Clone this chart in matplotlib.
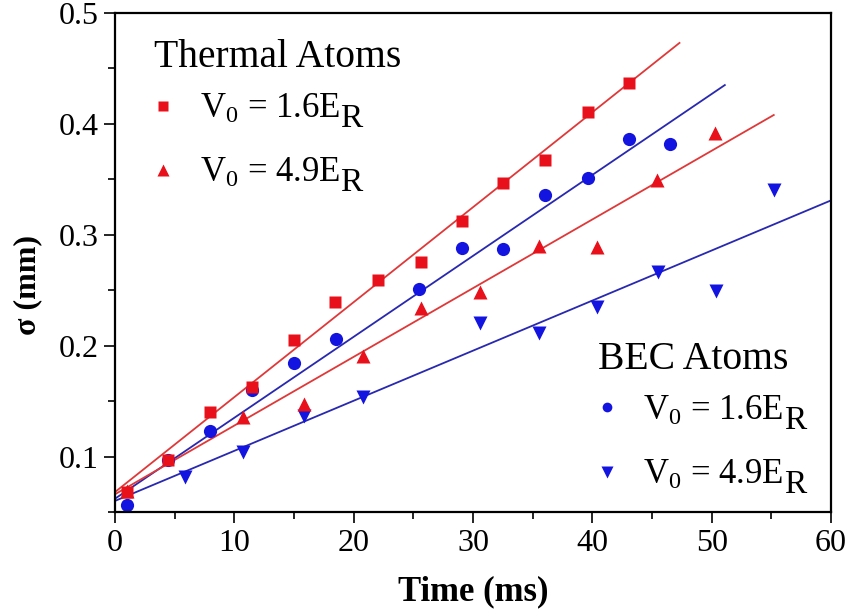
import matplotlib

matplotlib.use("Agg")
import matplotlib.pyplot as plt
from matplotlib.lines import Line2D

plt.rcParams["font.family"] = ["Liberation Serif", "DejaVu Serif"]
plt.rcParams["mathtext.fontset"] = "custom"
plt.rcParams["mathtext.rm"] = "Liberation Serif"
plt.rcParams["mathtext.it"] = "Liberation Serif:italic"
plt.rcParams["mathtext.bf"] = "Liberation Serif:bold"

RED = "#e8101a"
BLUE = "#1414e0"
RED_LINE = "#e03838"
BLUE_LINE = "#2828b0"

# thermal atoms, V0 = 1.6 ER
th16_t = [1.0, 4.4, 8.0, 11.5, 15.0, 18.4, 22.0, 25.6, 29.1, 32.5, 36.0, 39.6, 43.1]
th16_s = [0.068, 0.097, 0.140, 0.163, 0.205, 0.239, 0.259, 0.275, 0.312, 0.347, 0.367, 0.411, 0.437]
# thermal atoms, V0 = 4.9 ER
th49_t = [1.0, 10.7, 15.8, 20.8, 25.6, 30.6, 35.5, 40.4, 45.4, 50.3]
th49_s = [0.069, 0.136, 0.147, 0.191, 0.234, 0.248, 0.290, 0.289, 0.349, 0.392]
# BEC atoms, V0 = 1.6 ER
bec16_t = [1.0, 4.4, 8.0, 11.5, 15.0, 18.5, 25.5, 29.1, 32.5, 36.0, 39.6, 43.1, 46.5]
bec16_s = [0.056, 0.097, 0.123, 0.160, 0.184, 0.206, 0.251, 0.288, 0.287, 0.336, 0.351, 0.386, 0.382]
# BEC atoms, V0 = 4.9 ER
bec49_t = [5.9, 10.7, 15.8, 20.8, 30.6, 35.5, 40.4, 45.5, 50.4, 55.2]
bec49_s = [0.082, 0.104, 0.137, 0.154, 0.220, 0.211, 0.235, 0.266, 0.249, 0.340]

# linear fits (end points)
fit_th16_t, fit_th16_s = [0, 47.3], [0.068, 0.473]
fit_th49_t, fit_th49_s = [0, 55.2], [0.066, 0.408]
fit_bec16_t, fit_bec16_s = [0, 51.1], [0.062, 0.435]
fit_bec49_t, fit_bec49_s = [0, 60], [0.060, 0.331]

label_16 = r"V$_0$ = 1.6E"
label_49 = r"V$_0$ = 4.9E"
SUB = "R"  # large, dropped subscript of E


def add_subscripts(ax, leg):
    # the R of E_R is set almost full size, well below the baseline
    for t in leg.get_texts():
        ax.annotate(SUB, xy=(1, 0), xycoords=t, xytext=(0.5, -6),
                    textcoords="offset points", ha="left", va="bottom",
                    fontsize=24, zorder=10)


def main() -> None:
    fig = plt.figure(figsize=(8.52, 6.12), dpi=100)
    ax = fig.add_axes([0.135, 0.1634, 0.8404, 0.8154])

    ax.plot(fit_th16_t, fit_th16_s, color=RED_LINE, lw=1.3)
    ax.plot(fit_bec16_t, fit_bec16_s, color=BLUE_LINE, lw=1.3)
    ax.plot(fit_th49_t, fit_th49_s, color=RED_LINE, lw=1.3)
    ax.plot(fit_bec49_t, fit_bec49_s, color=BLUE_LINE, lw=1.3)

    ax.plot(bec49_t, bec49_s, "v", color=BLUE, ms=10, mec="none")
    ax.plot(th49_t, th49_s, "^", color=RED, ms=10, mec="none")
    ax.plot(bec16_t, bec16_s, "o", color=BLUE, ms=9.5, mec="none")
    ax.plot(th16_t, th16_s, "s", color=RED, ms=9, mec="none")

    ax.set_xlim(0, 60)
    ax.set_ylim(0.05, 0.5)
    ax.set_xticks(range(0, 61, 10))
    ax.set_xticks(range(5, 60, 10), minor=True)
    ax.set_yticks([0.1, 0.2, 0.3, 0.4, 0.5])
    ax.set_yticks([0.05, 0.15, 0.25, 0.35, 0.45], minor=True)
    ax.set_yticklabels(["0.1", "0.2", "0.3", "0.4", "0.5"])
    ax.tick_params(which="major", direction="out", length=8, width=1.2, labelsize=23, pad=4)
    ax.tick_params(which="minor", direction="out", length=5, width=1.2)
    for sp in ax.spines.values():
        sp.set_linewidth(1.6)

    ax.set_xlabel("Time (ms)", fontsize=25, fontweight="bold")
    ax.set_ylabel("σ (mm)", fontsize=23, fontweight="bold")
    ax.xaxis.set_label_coords(0.5, -0.127)
    ax.yaxis.set_label_coords(-0.102, 0.455)

    common = dict(frameon=False, fontsize=25, title_fontsize=28.5, handlelength=0.5,
                  handletextpad=0.8, labelspacing=0.9, borderpad=0, borderaxespad=0,
                  alignment="left")
    h_sq = Line2D([], [], ls="none", marker="s", color=RED, ms=7, mec="none")
    h_up = Line2D([], [], ls="none", marker="^", color=RED, ms=9, mec="none")
    leg1 = ax.legend([h_sq, h_up], [label_16, label_49], title="Thermal Atoms",
                     loc="upper left", bbox_to_anchor=(0.055, 0.948), **common)
    leg1._legend_box.sep = 12  # tighter gap under the title than between entries
    ax.add_artist(leg1)
    h_ci = Line2D([], [], ls="none", marker="o", color=BLUE, ms=7, mec="none")
    h_dn = Line2D([], [], ls="none", marker="v", color=BLUE, ms=9, mec="none")
    leg2 = ax.legend([h_ci, h_dn], [label_16, label_49], title="BEC Atoms",
                     loc="upper left", bbox_to_anchor=(0.675, 0.343), **common)
    leg2._legend_box.sep = 12
    add_subscripts(ax, leg1)
    add_subscripts(ax, leg2)

    fig.savefig("out.png", dpi=100)
    plt.close(fig)


if __name__ == "__main__":
    main()
